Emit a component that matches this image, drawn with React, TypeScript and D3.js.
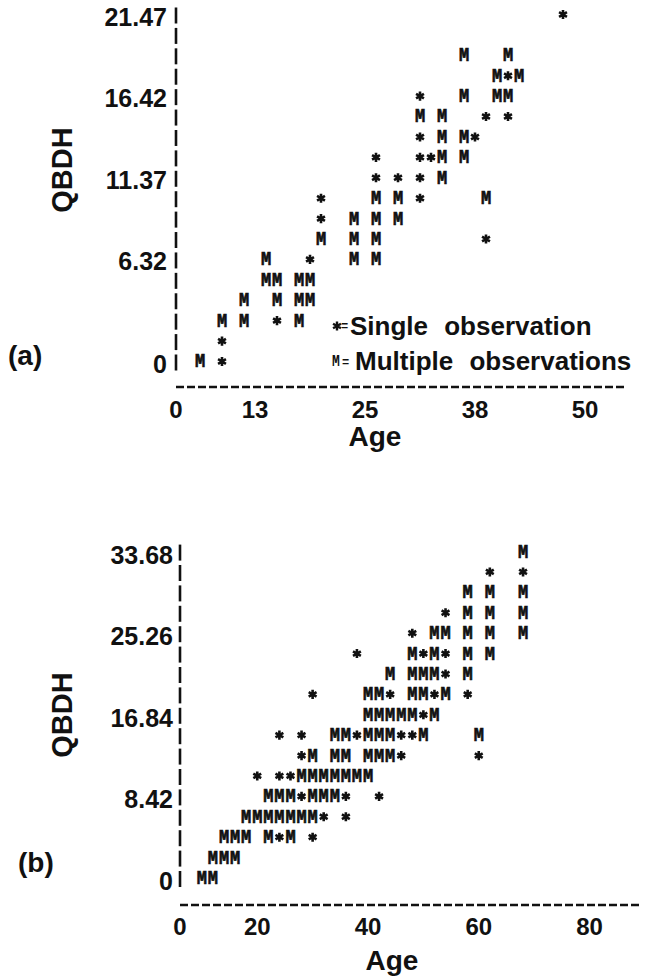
import React from "react";
import * as d3 from "d3";

// panel (a): age, QBDH and the printed symbol (M = multiple obs, * = single obs)
const ageA = [
  47.5,
  36.25, 41.25,
  40, 41.25, 42.5,
  31.25, 36.25, 40, 41.25,
  31.25, 33.75, 38.75, 41.25,
  31.25, 33.75, 36.25, 37.5,
  26.25, 31.25, 32.5, 33.75, 36.25,
  26.25, 28.75, 31.25, 33.75,
  20, 26.25, 28.75, 31.25, 38.75,
  20, 23.75, 26.25, 28.75,
  20, 23.75, 26.25, 38.75,
  13.75, 18.75, 23.75, 26.25,
  13.75, 15, 17.5, 18.75,
  11.25, 15, 17.5, 18.75,
  8.75, 11.25, 15, 17.5,
  8.75,
  6.25, 8.75,
];
const qbdhA = [
  21.47,
  18.94, 18.94,
  17.68, 17.68, 17.68,
  16.42, 16.42, 16.42, 16.42,
  15.16, 15.16, 15.16, 15.16,
  13.89, 13.89, 13.89, 13.89,
  12.63, 12.63, 12.63, 12.63, 12.63,
  11.37, 11.37, 11.37, 11.37,
  10.1, 10.1, 10.1, 10.1, 10.1,
  8.84, 8.84, 8.84, 8.84,
  7.58, 7.58, 7.58, 7.58,
  6.32, 6.32, 6.32, 6.32,
  5.05, 5.05, 5.05, 5.05,
  3.79, 3.79, 3.79, 3.79,
  2.53, 2.53, 2.53, 2.53,
  1.26,
  0, 0,
];
const markA = [
  "*",
  "M", "M",
  "M", "*", "M",
  "*", "M", "M", "M",
  "M", "M", "*", "*",
  "*", "M", "M", "*",
  "*", "*", "*", "M", "M",
  "*", "*", "*", "M",
  "*", "M", "M", "*", "M",
  "*", "M", "M", "M",
  "M", "M", "M", "*",
  "M", "*", "M", "M",
  "M", "M", "M", "M",
  "M", "M", "M", "M",
  "M", "M", "*", "M",
  "*",
  "M", "*",
];
const yTicksA = [0, 6.32, 11.37, 16.42, 21.47];
const xTicksA = [0, 12.5, 25, 37.5, 50];
const xLabelsA = ["0", "13", "25", "38", "50"];

// panel (b)
const ageB = [
  68,
  62, 68,
  58, 62, 68,
  54, 58, 62, 68,
  48, 52, 54, 58, 62, 68,
  38, 48, 50, 52, 54, 58, 62,
  44, 48, 50, 52, 54, 58,
  30, 40, 42, 44, 48, 50, 52, 54, 58,
  40, 42, 44, 46, 48, 50, 52,
  24, 28, 34, 36, 38, 40, 42, 44, 46, 48, 50, 60,
  28, 30, 34, 36, 40, 42, 44, 46, 60,
  20, 24, 26, 28, 30, 32, 34, 36, 38, 40,
  22, 24, 26, 28, 30, 32, 34, 36, 42,
  18, 20, 22, 24, 26, 28, 30, 32, 36,
  14, 16, 18, 22, 24, 26, 30,
  12, 14, 16,
  10, 12,
];
const qbdhB = [
  33.68,
  31.58, 31.58,
  29.47, 29.47, 29.47,
  27.37, 27.37, 27.37, 27.37,
  25.26, 25.26, 25.26, 25.26, 25.26, 25.26,
  23.16, 23.16, 23.16, 23.16, 23.16, 23.16, 23.16,
  21.05, 21.05, 21.05, 21.05, 21.05, 21.05,
  18.95, 18.95, 18.95, 18.95, 18.95, 18.95, 18.95, 18.95, 18.95,
  16.84, 16.84, 16.84, 16.84, 16.84, 16.84, 16.84,
  14.74, 14.74, 14.74, 14.74, 14.74, 14.74, 14.74, 14.74, 14.74, 14.74, 14.74, 14.74,
  12.63, 12.63, 12.63, 12.63, 12.63, 12.63, 12.63, 12.63, 12.63,
  10.53, 10.53, 10.53, 10.53, 10.53, 10.53, 10.53, 10.53, 10.53, 10.53,
  8.42, 8.42, 8.42, 8.42, 8.42, 8.42, 8.42, 8.42, 8.42,
  6.32, 6.32, 6.32, 6.32, 6.32, 6.32, 6.32, 6.32, 6.32,
  4.21, 4.21, 4.21, 4.21, 4.21, 4.21, 4.21,
  2.11, 2.11, 2.11,
  0, 0,
];
const markB = [
  "M",
  "*", "*",
  "M", "M", "M",
  "*", "M", "M", "M",
  "*", "M", "M", "M", "M", "M",
  "*", "M", "*", "M", "*", "M", "M",
  "M", "M", "M", "M", "*", "M",
  "*", "M", "M", "*", "M", "M", "*", "M", "*",
  "M", "M", "M", "M", "M", "*", "M",
  "*", "*", "M", "M", "*", "M", "M", "M", "*", "*", "M", "M",
  "*", "M", "M", "M", "M", "M", "M", "*", "*",
  "*", "*", "*", "M", "M", "M", "M", "M", "M", "M",
  "M", "M", "M", "*", "M", "M", "M", "*", "*",
  "M", "M", "M", "M", "M", "M", "M", "*", "*",
  "M", "M", "M", "M", "*", "M", "*",
  "M", "M", "M",
  "M", "M",
];
const yTicksB = [0, 8.42, 16.84, 25.26, 33.68];
const xTicksB = [0, 20, 40, 60, 80];
const xLabelsB = ["0", "20", "40", "60", "80"];

const INK = "#111";
const SANS = "'Liberation Sans', Arial, Helvetica, sans-serif";
const MONO = "'Liberation Mono', 'Courier New', monospace";

const star = d3.symbol().type(d3.symbolAsterisk).size(58)() as string;

function Mark({ kind, px, py }) {
  if (kind === "*") {
    return (
      <path d={star} transform={`translate(${px},${py})`} fill="none" stroke={INK} strokeWidth={2.6} />
    );
  }
  return (
    <text
      transform={`translate(${px},${py}) scale(1,1.22)`}
      y={4.9}
      textAnchor="middle"
      fontFamily={MONO}
      fontWeight="bold"
      fontSize={17}
      fill={INK}
      stroke={INK}
      strokeWidth={0.6}
    >
      M
    </text>
  );
}

function Panel({ ages, qbdh, marks, x, y, yTicks, xTicks, xLabels, nRows, axisX, lineY, lineX1, tickY, ageY, ageX, qbdhY, tag, tagX, tagY, labelGap, labelDy }) {
  const top = yTicks[yTicks.length - 1];
  const rows = d3.range(nRows + 1).map((i) => y((top * i) / nRows));
  return (
    <g>
      {rows.map((ry, i) => (
        <line key={i} x1={axisX} x2={axisX} y1={ry - 7} y2={ry + 9} stroke={INK} strokeWidth={2.6} />
      ))}
      {yTicks.map((v) => (
        <text key={v} x={axisX - labelGap} y={y(v) + labelDy} textAnchor="end" fontFamily={SANS} fontWeight="bold" fontSize={25} fill={INK}>
          {v === 0 ? "0" : v.toFixed(2)}
        </text>
      ))}
      <line x1={axisX} x2={lineX1} y1={lineY} y2={lineY} stroke={INK} strokeWidth={2.4} strokeDasharray="8 3" />
      {xTicks.map((v, i) => (
        <text key={v} x={Math.max(x(v), axisX)} y={tickY} textAnchor="middle" fontFamily={SANS} fontWeight="bold" fontSize={24} fill={INK}>
          {xLabels[i]}
        </text>
      ))}
      <text x={ageX} y={ageY} textAnchor="middle" fontFamily={SANS} fontWeight="bold" fontSize={28} fill={INK}>Age</text>
      <text transform={`translate(72,${qbdhY}) rotate(-90)`} textAnchor="middle" fontFamily={SANS} fontWeight="bold" fontSize={29} fill={INK}>QBDH</text>
      <text x={tagX} y={tagY} fontFamily={SANS} fontWeight="bold" fontSize={28} fill={INK}>{tag}</text>
      {ages.map((a, i) => (
        <Mark key={i} kind={marks[i]} px={x(a)} py={y(qbdh[i])} />
      ))}
    </g>
  );
}

export default function App() {
  const xA = d3.scaleLinear().domain([0, 50]).range([145, 585]);
  const yA = d3.scaleLinear().domain([0, 21.47]).range([361.5, 14.5]);
  const xB = d3.scaleLinear().domain([0, 80]).range([146.5, 589.5]);
  const yB = d3.scaleLinear().domain([0, 33.68]).range([878, 551.6]);

  return (
    <svg width={646} height={979} style={{ position: "absolute", left: 0, top: 0, background: "#fff" }}>
      <rect width={646} height={979} fill="#fff" />
      <Panel
        ages={ageA} qbdh={qbdhA} marks={markA} x={xA} y={yA}
        yTicks={yTicksA} xTicks={xTicksA} xLabels={xLabelsA} nRows={17}
        axisX={176} lineY={387} lineX1={626} tickY={418} ageX={375} ageY={446}
        qbdhY={170} tag="(a)" tagX={8} tagY={365} labelGap={9} labelDy={11}
      />
      {/* legend for the two symbols */}
      <g>
        <path d={star} transform="translate(337,326)" fill="none" stroke={INK} strokeWidth={2.4} />
        <text x={341} y={330} fontFamily={MONO} fontWeight="bold" fontSize={12} fill={INK}>=</text>
        <text x={350} y={335} fontFamily={SANS} fontWeight="bold" fontSize={26} wordSpacing={9} fill={INK}>Single observation</text>
        <text transform="translate(336,361) scale(1,1.25)" y={4} textAnchor="middle" fontFamily={MONO} fontWeight="bold" fontSize={13} fill={INK}>M</text>
        <text x={342} y={366} fontFamily={MONO} fontWeight="bold" fontSize={12} fill={INK}>=</text>
        <text x={355} y={370} fontFamily={SANS} fontWeight="bold" fontSize={26} wordSpacing={9} fill={INK}>Multiple observations</text>
      </g>
      <Panel
        ages={ageB} qbdh={qbdhB} marks={markB} x={xB} y={yB}
        yTicks={yTicksB} xTicks={xTicksB} xLabels={xLabelsB} nRows={16}
        axisX={180} lineY={905} lineX1={640} tickY={935} ageX={392} ageY={970}
        qbdhY={715} tag="(b)" tagX={18} tagY={872} labelGap={7} labelDy={12}
      />
    </svg>
  );
}
